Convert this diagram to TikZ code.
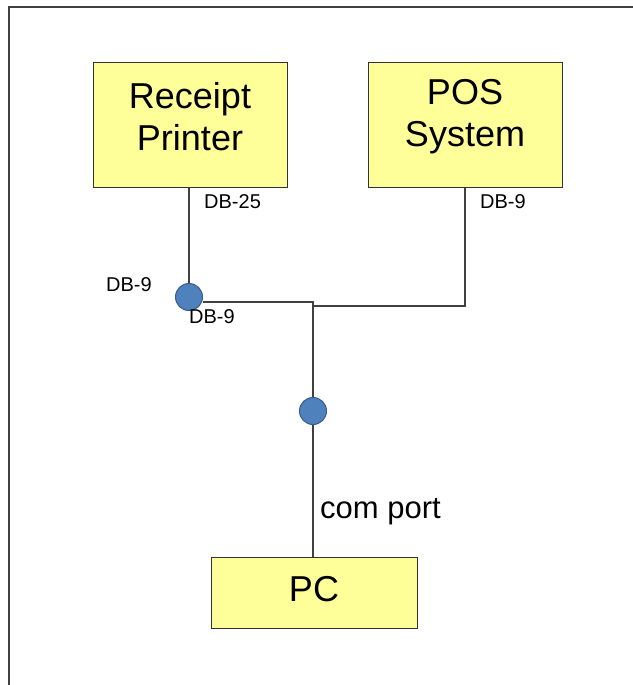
\documentclass[tikz,border=0pt]{standalone}
\usepackage{fontspec}
\setmainfont{Liberation Sans}
\definecolor{jaune}{RGB}{255,255,153}
\definecolor{bleu}{RGB}{79,129,189}
\definecolor{bleufonce}{RGB}{56,93,138}
\begin{document}
\begin{tikzpicture}[x=1pt,y=-1pt,
    boite/.style={draw=black!80, fill=jaune, line width=1pt, inner sep=0pt, align=center, font=\fontsize{36}{42}\selectfont},
    prise/.style={circle, draw=bleufonce, fill=bleu, line width=1pt, minimum size=27pt, inner sep=0pt},
    fil/.style={draw=black!75, line width=1.3pt},
    etiq/.style={inner sep=0pt, font=\fontsize{20}{22}\selectfont}]
    % Cadre et taille de l'image
    \useasboundingbox (0,0) rectangle (632,685);
    \draw[black!75, line width=2pt] (9,690) -- (9,7) -- (640,7);

    % Placer les trois appareils
    \node[boite, minimum width=194pt, minimum height=124pt] (imprimante) at (190,125) {};
    \node[font=\fontsize{36}{42}\selectfont, align=center] (texteimp) at (190,117) {Receipt\\Printer};
    \node[boite, minimum width=194pt, minimum height=124pt] (caisse) at (465,125) {};
    \node[font=\fontsize{36}{42}\selectfont, align=center] (textecaisse) at (465,117) {POS\\System};
    \node[boite, minimum width=206pt, minimum height=71pt] (pc) at (314,592.5) {};
    \node[font=\fontsize{36}{42}\selectfont] (textepc) at (314,589) {PC};

    % Les connecteurs
    \node[prise] (prise1) at (189,297) {};
    \node[prise] (prise2) at (313,411) {};
    \coordinate (jonction) at (313,302);
    \coordinate (coin) at (465,306);
    \coordinate (jonction2) at (313,306);

    % Les cables
    \draw[fil] (imprimante.south -| prise1) -- (prise1);
    \draw[fil] (prise1.east |- jonction) -- (jonction) -- (prise2);
    \draw[fil] (caisse.south) -- (coin) -- (jonction2);
    \draw[fil] (prise2) -- (pc.north -| prise2);

    % Placer les etiquettes des prises
    \node[etiq, anchor=west] (db25) at (204,202) {DB-25};
    \node[etiq, anchor=west] (db9caisse) at (480,202) {DB-9};
    \node[etiq, anchor=west] (db9gauche) at (106,285) {DB-9};
    \node[etiq, anchor=west] (db9bas) at (189,317) {DB-9};
    \node[inner sep=0pt, anchor=west, font=\fontsize{31}{36}\selectfont] (comport) at (320,512) {com port};
\end{tikzpicture}
\end{document}
